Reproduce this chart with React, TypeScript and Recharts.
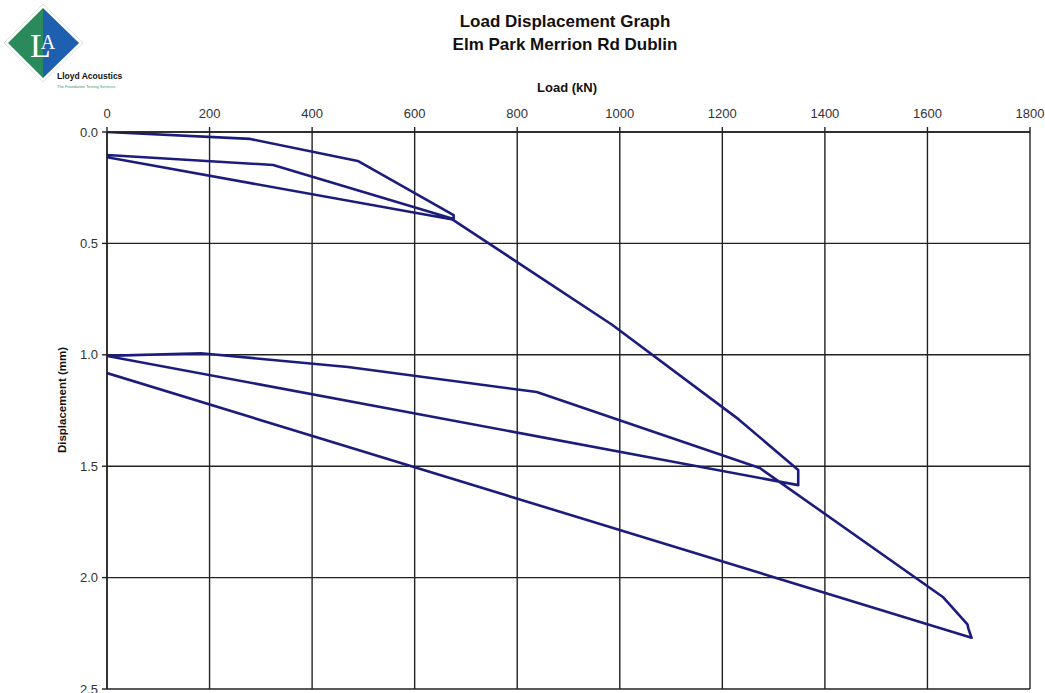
import React from "react";
import { LineChart, Line, XAxis, YAxis, CartesianGrid } from "recharts";

const loads = [0, 279, 489, 676, 676, 324, 0, 0, 674, 985, 1232, 1348, 1348, 0, 183, 470, 838, 1273, 1630, 1678, 1680, 1686, 0];
const displacements = [0, 0.031, 0.13, 0.373, 0.39, 0.148, 0.103, 0.113, 0.393, 0.865, 1.29, 1.517, 1.585, 1.005, 0.993, 1.055, 1.167, 1.508, 2.087, 2.21, 2.23, 2.27, 1.082];
const xTicks = [0, 200, 400, 600, 800, 1000, 1200, 1400, 1600, 1800];
const yTicks = [0, 0.5, 1.0, 1.5, 2.0, 2.5];

const data = loads.map((l, i) => ({ load: l, disp: displacements[i] }));

const FONT = '"Liberation Sans", Arial, sans-serif';

export default function App() {
  return (
    <div style={{ position: "absolute", left: 0, top: 0, width: 1045, height: 693, background: "#fff", fontFamily: FONT, overflow: "hidden" }}>
      <svg width={140} height={95} style={{ position: "absolute", left: 0, top: 0 }}>
        <polygon points="43,4 83,43 43,82 4,43" fill="#ffffff" stroke="#d8e4e0" strokeWidth={1} />
        <polygon points="43,8 43,78 8,43" fill="#2a8a5c" />
        <polygon points="43,8 79,43 43,78" fill="#1f5faf" />
        <text x={30} y={57} fill="#fff" fontFamily='"Liberation Serif", serif' fontSize={34}>
          L<tspan dx={-10} dy={-8} fontSize={20}>A</tspan>
        </text>
        <text x={57} y={79} fill="#111" fontFamily={FONT} fontWeight="bold" fontSize={8.5}>Lloyd Acoustics</text>
        <text x={57} y={88} fill="#3a9a70" fontFamily={FONT} fontSize={4}>The Foundation Testing Services</text>
      </svg>
      <div style={{ position: "absolute", left: 365, width: 400, top: 10, textAlign: "center", fontWeight: "bold", fontSize: 17, lineHeight: "23px", color: "#111" }}>
        <div>Load Displacement Graph</div>
        <div>Elm Park Merrion Rd Dublin</div>
      </div>
      <div style={{ position: "absolute", left: 467, width: 200, top: 80, textAlign: "center", fontWeight: "bold", fontSize: 13, color: "#111" }}>Load (kN)</div>
      <div style={{ position: "absolute", left: 62, top: 400, width: 0, height: 0 }}>
        <div style={{ position: "absolute", left: -100, top: -8, width: 200, textAlign: "center", fontWeight: "bold", fontSize: 11.5, lineHeight: "16px", color: "#111", transform: "rotate(-90deg)" }}>Displacement (mm)</div>
      </div>
      <div style={{ position: "absolute", left: 0, top: 0 }}>
        <LineChart width={1045} height={693} data={data} margin={{ top: 102, right: 15, left: 0, bottom: 4 }}>
          <CartesianGrid stroke="#222" strokeWidth={1.4} horizontalValues={yTicks} verticalValues={xTicks} />
          <XAxis
            dataKey="load"
            type="number"
            orientation="top"
            domain={[0, 1800]}
            ticks={xTicks}
            height={30}
            tickSize={5}
            tickMargin={9}
            axisLine={{ stroke: "#222", strokeWidth: 1.4 }}
            tickLine={{ stroke: "#222", strokeWidth: 1.4 }}
            tick={{ fill: "#333", fontSize: 13, fontFamily: FONT }}
            interval={0}
            allowDataOverflow
          />
          <YAxis
            dataKey="disp"
            type="number"
            reversed
            domain={[0, 2.5]}
            ticks={yTicks}
            width={107}
            tickSize={5}
            tickMargin={4}
            tickFormatter={(v: number) => v.toFixed(1)}
            axisLine={{ stroke: "#222", strokeWidth: 1.4 }}
            tickLine={{ stroke: "#222", strokeWidth: 1.4 }}
            tick={{ fill: "#333", fontSize: 13, fontFamily: FONT }}
            interval={0}
            allowDataOverflow
          />
          <Line
            dataKey="disp"
            type="linear"
            stroke="#1c1c7c"
            strokeWidth={2.6}
            dot={false}
            isAnimationActive={false}
            strokeLinejoin="round"
          />
        </LineChart>
      </div>
    </div>
  );
}
